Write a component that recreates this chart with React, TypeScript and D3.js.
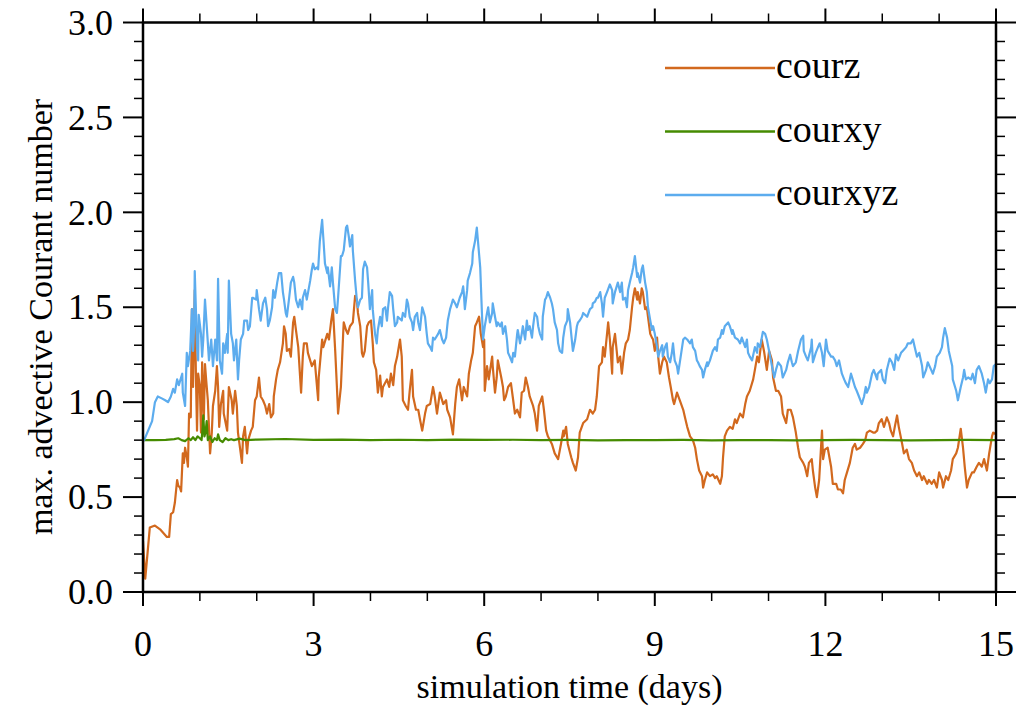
import React from "react";
import * as d3 from "d3";

// Maximum advective Courant numbers over a 15-day simulation, [day, value]
const courz: [number, number][] = [
  [0.00,0.27],[0.04,0.07],[0.12,0.34],[0.21,0.35],[0.30,0.33],[0.42,0.29],[0.46,0.29],[0.49,0.41],[0.53,0.42],[0.56,0.47],
  [0.60,0.59],[0.62,0.56],[0.65,0.55],[0.67,0.53],[0.70,0.73],[0.72,0.68],[0.74,0.76],[0.77,0.71],[0.79,0.66],[0.81,0.94],
  [0.84,0.92],[0.86,1.49],[0.88,1.08],[0.91,1.59],[0.93,1.15],[0.95,0.85],[0.97,1.15],[1.00,1.08],[1.02,0.84],[1.04,1.21],
  [1.07,0.91],[1.09,1.20],[1.11,1.12],[1.14,1.01],[1.18,0.73],[1.21,0.84],[1.23,0.98],[1.27,1.06],[1.30,1.19],[1.32,1.08],
  [1.34,0.87],[1.37,0.99],[1.41,1.06],[1.42,0.94],[1.48,0.85],[1.51,1.08],[1.56,1.01],[1.58,0.94],[1.62,1.06],[1.65,0.98],
  [1.67,0.84],[1.71,0.75],[1.74,0.68],[1.76,0.82],[1.79,0.87],[1.83,0.73],[1.85,0.80],[1.90,0.85],[1.93,0.87],[1.97,1.01],
  [2.00,1.03],[2.04,1.13],[2.07,1.03],[2.11,1.01],[2.15,0.98],[2.18,0.94],[2.22,0.99],[2.25,0.92],[2.29,0.94],[2.30,1.03],
  [2.34,1.12],[2.37,1.17],[2.41,1.21],[2.46,1.31],[2.48,1.40],[2.51,1.36],[2.53,1.27],[2.57,1.28],[2.60,1.24],[2.64,1.42],
  [2.66,1.45],[2.69,1.38],[2.73,1.29],[2.78,1.05],[2.81,1.24],[2.83,1.31],[2.88,1.31],[2.90,1.26],[2.97,1.19],[3.02,1.22],
  [3.08,1.01],[3.09,1.13],[3.15,1.33],[3.17,1.29],[3.24,1.36],[3.27,1.33],[3.31,1.43],[3.34,1.49],[3.38,1.27],[3.41,1.08],
  [3.43,0.94],[3.48,1.08],[3.52,1.36],[3.53,1.42],[3.57,1.38],[3.60,1.36],[3.64,1.40],[3.69,1.42],[3.73,1.56],[3.76,1.54],
  [3.78,1.47],[3.82,1.40],[3.85,1.26],[3.87,1.24],[3.90,1.27],[3.94,1.40],[3.97,1.42],[4.01,1.43],[4.04,1.31],[4.06,1.21],
  [4.10,1.17],[4.13,1.05],[4.17,1.14],[4.20,1.03],[4.22,1.08],[4.29,1.12],[4.33,1.08],[4.36,1.15],[4.40,1.09],[4.43,1.19],
  [4.47,1.24],[4.48,1.26],[4.52,1.33],[4.55,1.24],[4.57,1.01],[4.62,0.98],[4.66,0.96],[4.69,1.06],[4.73,1.17],[4.75,1.03],
  [4.80,0.96],[4.84,0.96],[4.87,0.91],[4.91,0.85],[4.96,0.94],[4.99,0.98],[5.05,0.99],[5.10,1.08],[5.13,1.03],[5.17,0.94],
  [5.22,1.05],[5.28,0.99],[5.33,1.01],[5.35,0.96],[5.40,0.92],[5.45,0.83],[5.49,0.99],[5.52,1.08],[5.56,1.12],[5.61,1.01],
  [5.64,1.08],[5.70,1.03],[5.73,1.15],[5.77,1.22],[5.80,1.26],[5.84,1.40],[5.87,1.42],[5.91,1.45],[5.94,1.36],[5.98,1.29],
  [6.00,1.33],[6.01,1.06],[6.05,1.19],[6.08,1.12],[6.14,1.24],[6.15,1.19],[6.19,1.05],[6.22,1.13],[6.24,1.22],[6.30,1.13],
  [6.33,1.08],[6.35,1.01],[6.38,1.03],[6.42,1.08],[6.47,1.10],[6.51,1.01],[6.54,0.94],[6.58,0.96],[6.63,0.92],[6.66,1.05],
  [6.70,1.06],[6.73,1.13],[6.77,1.08],[6.80,1.03],[6.86,0.98],[6.89,0.94],[6.93,0.85],[6.96,0.98],[7.02,1.03],[7.05,0.96],
  [7.09,0.85],[7.12,0.82],[7.19,0.78],[7.24,0.73],[7.30,0.70],[7.35,0.78],[7.39,0.85],[7.40,0.82],[7.44,0.87],[7.47,0.78],
  [7.53,0.71],[7.56,0.68],[7.61,0.64],[7.65,0.71],[7.68,0.84],[7.74,0.89],[7.81,0.91],[7.86,0.96],[7.91,0.94],[7.95,0.96],
  [7.98,1.03],[8.02,1.19],[8.07,1.21],[8.09,1.29],[8.12,1.24],[8.16,1.36],[8.18,1.42],[8.21,1.33],[8.25,1.15],[8.26,1.29],
  [8.30,1.36],[8.33,1.27],[8.35,1.21],[8.39,1.24],[8.42,1.15],[8.46,1.26],[8.49,1.31],[8.53,1.33],[8.56,1.38],[8.60,1.50],
  [8.62,1.55],[8.65,1.60],[8.69,1.54],[8.70,1.58],[8.74,1.52],[8.77,1.60],[8.79,1.58],[8.83,1.49],[8.86,1.50],[8.88,1.45],
  [8.92,1.36],[8.95,1.34],[8.97,1.33],[9.00,1.27],[9.04,1.34],[9.06,1.24],[9.09,1.15],[9.13,1.21],[9.16,1.24],[9.21,1.21],
  [9.25,1.13],[9.28,1.08],[9.32,1.01],[9.34,0.99],[9.39,1.05],[9.44,1.01],[9.50,0.96],[9.53,0.92],[9.57,0.87],[9.62,0.82],
  [9.67,0.80],[9.71,0.76],[9.74,0.70],[9.78,0.64],[9.83,0.61],[9.85,0.55],[9.88,0.59],[9.92,0.63],[9.97,0.61],[10.02,0.62],
  [10.06,0.60],[10.09,0.61],[10.15,0.57],[10.18,0.61],[10.20,0.71],[10.23,0.82],[10.27,0.85],[10.32,0.87],[10.37,0.86],[10.41,0.91],
  [10.44,0.89],[10.50,0.94],[10.55,0.92],[10.59,0.99],[10.62,1.03],[10.67,1.06],[10.73,1.12],[10.76,1.17],[10.80,1.24],[10.83,1.21],
  [10.85,1.26],[10.88,1.33],[10.92,1.27],[10.97,1.17],[11.01,1.27],[11.06,1.22],[11.08,1.13],[11.13,1.06],[11.17,1.06],[11.22,1.03],
  [11.25,0.94],[11.31,0.89],[11.34,0.96],[11.39,0.96],[11.43,0.92],[11.48,0.84],[11.52,0.76],[11.55,0.71],[11.61,0.68],[11.64,0.66],
  [11.68,0.61],[11.71,0.68],[11.76,0.70],[11.78,0.64],[11.82,0.55],[11.85,0.50],[11.89,0.59],[11.94,0.85],[11.96,0.70],[11.99,0.75],
  [12.04,0.76],[12.10,0.66],[12.13,0.57],[12.19,0.57],[12.22,0.54],[12.27,0.54],[12.31,0.52],[12.34,0.59],[12.38,0.63],[12.43,0.68],
  [12.48,0.76],[12.52,0.78],[12.55,0.75],[12.61,0.76],[12.66,0.78],[12.70,0.80],[12.73,0.84],[12.78,0.85],[12.84,0.84],[12.87,0.84],
  [12.91,0.85],[12.94,0.89],[12.99,0.91],[13.03,0.87],[13.08,0.92],[13.12,0.89],[13.15,0.85],[13.19,0.82],[13.22,0.87],[13.26,0.93],
  [13.29,0.87],[13.35,0.78],[13.38,0.73],[13.43,0.75],[13.47,0.70],[13.52,0.68],[13.56,0.64],[13.61,0.61],[13.65,0.63],[13.70,0.59],
  [13.73,0.61],[13.79,0.57],[13.82,0.59],[13.87,0.57],[13.91,0.59],[13.96,0.55],[14.00,0.63],[14.05,0.59],[14.07,0.55],[14.12,0.61],
  [14.16,0.59],[14.21,0.64],[14.24,0.70],[14.30,0.73],[14.33,0.76],[14.38,0.86],[14.42,0.76],[14.45,0.66],[14.49,0.55],[14.52,0.59],
  [14.58,0.63],[14.61,0.63],[14.66,0.66],[14.70,0.68],[14.75,0.66],[14.79,0.70],[14.84,0.64],[14.88,0.73],[14.93,0.82],[14.95,0.84],
  [15.00,0.83],
];

const courxy: [number, number][] = [
  [0.00,0.800],[0.20,0.800],[0.40,0.801],[0.55,0.805],[0.62,0.810],[0.68,0.800],[0.74,0.795],[0.80,0.810],[0.84,0.800],[0.88,0.815],
  [0.92,0.800],[0.96,0.820],[1.00,0.810],[1.03,0.800],[1.05,0.870],[1.06,0.930],[1.08,0.820],[1.10,0.840],[1.12,0.900],[1.14,0.800],
  [1.18,0.820],[1.22,0.790],[1.26,0.810],[1.30,0.800],[1.32,0.830],[1.35,0.800],[1.40,0.790],[1.45,0.810],[1.50,0.800],[1.55,0.805],
  [1.60,0.800],[1.70,0.808],[1.80,0.800],[2.00,0.803],[2.50,0.806],[3.00,0.801],[3.50,0.803],[4.00,0.800],[4.50,0.802],[5.00,0.800],
  [5.50,0.803],[6.00,0.801],[6.50,0.802],[7.00,0.800],[7.50,0.801],[8.00,0.799],[8.50,0.800],[9.00,0.800],[9.50,0.801],[10.00,0.799],
  [10.50,0.800],[11.00,0.800],[11.50,0.799],[12.00,0.800],[12.50,0.801],[13.00,0.800],[13.50,0.799],[14.00,0.800],[14.50,0.801],[15.00,0.800],
];

const courxyz: [number, number][] = [
  [0.00,0.80],[0.02,0.80],[0.09,0.85],[0.16,0.90],[0.21,1.00],[0.26,1.03],[0.33,1.02],[0.39,1.01],[0.44,1.00],[0.49,1.03],
  [0.53,1.07],[0.56,1.05],[0.60,1.12],[0.63,1.09],[0.69,1.15],[0.70,1.05],[0.74,0.98],[0.77,1.26],[0.79,1.19],[0.83,1.27],
  [0.86,1.49],[0.88,1.27],[0.90,1.40],[0.91,1.69],[0.95,1.29],[0.97,1.22],[0.98,1.46],[1.02,1.36],[1.04,1.24],[1.06,1.33],
  [1.09,1.54],[1.13,1.36],[1.16,1.22],[1.20,1.33],[1.23,1.19],[1.27,1.33],[1.30,1.22],[1.32,1.65],[1.35,1.22],[1.39,1.15],
  [1.41,1.31],[1.44,1.26],[1.48,1.36],[1.49,1.26],[1.51,1.64],[1.55,1.36],[1.58,1.31],[1.60,1.22],[1.64,1.33],[1.67,1.12],
  [1.69,1.22],[1.72,1.33],[1.76,1.36],[1.78,1.43],[1.83,1.43],[1.85,1.38],[1.88,1.40],[1.92,1.55],[1.93,1.55],[1.99,1.54],
  [2.00,1.59],[2.04,1.49],[2.07,1.43],[2.11,1.52],[2.15,1.55],[2.18,1.49],[2.20,1.40],[2.23,1.43],[2.27,1.50],[2.29,1.59],
  [2.32,1.55],[2.36,1.63],[2.39,1.68],[2.43,1.68],[2.46,1.58],[2.48,1.54],[2.51,1.47],[2.53,1.45],[2.57,1.55],[2.60,1.63],
  [2.64,1.66],[2.66,1.63],[2.69,1.54],[2.73,1.50],[2.76,1.54],[2.80,1.49],[2.81,1.55],[2.85,1.59],[2.88,1.54],[2.94,1.64],
  [2.97,1.70],[2.99,1.73],[3.02,1.70],[3.06,1.71],[3.08,1.70],[3.11,1.85],[3.15,1.96],[3.17,1.87],[3.20,1.73],[3.24,1.68],
  [3.25,1.71],[3.29,1.61],[3.32,1.71],[3.34,1.63],[3.38,1.49],[3.41,1.47],[3.43,1.55],[3.48,1.77],[3.50,1.77],[3.53,1.80],
  [3.57,1.92],[3.59,1.93],[3.62,1.87],[3.64,1.82],[3.68,1.88],[3.69,1.80],[3.73,1.64],[3.76,1.54],[3.78,1.50],[3.82,1.54],
  [3.85,1.55],[3.87,1.70],[3.90,1.74],[3.94,1.71],[3.96,1.63],[3.99,1.49],[4.03,1.59],[4.04,1.49],[4.08,1.36],[4.11,1.31],
  [4.13,1.38],[4.17,1.45],[4.20,1.40],[4.22,1.49],[4.26,1.50],[4.29,1.43],[4.31,1.50],[4.34,1.58],[4.38,1.56],[4.40,1.49],
  [4.43,1.40],[4.47,1.42],[4.48,1.45],[4.55,1.43],[4.57,1.47],[4.61,1.45],[4.64,1.54],[4.66,1.52],[4.69,1.45],[4.73,1.42],
  [4.75,1.38],[4.78,1.45],[4.82,1.47],[4.84,1.42],[4.87,1.38],[4.91,1.50],[4.92,1.49],[4.96,1.45],[4.99,1.36],[5.01,1.31],
  [5.05,1.29],[5.08,1.27],[5.10,1.34],[5.13,1.33],[5.19,1.36],[5.22,1.38],[5.26,1.33],[5.29,1.31],[5.33,1.34],[5.36,1.43],
  [5.40,1.49],[5.43,1.52],[5.45,1.54],[5.49,1.52],[5.52,1.50],[5.57,1.55],[5.61,1.58],[5.63,1.61],[5.64,1.58],[5.66,1.49],
  [5.70,1.59],[5.71,1.64],[5.75,1.68],[5.79,1.73],[5.80,1.79],[5.84,1.85],[5.87,1.92],[5.89,1.85],[5.93,1.71],[5.96,1.47],
  [5.98,1.33],[6.01,1.40],[6.05,1.47],[6.07,1.50],[6.10,1.42],[6.14,1.47],[6.15,1.52],[6.19,1.45],[6.22,1.40],[6.24,1.42],
  [6.28,1.40],[6.31,1.42],[6.33,1.36],[6.37,1.40],[6.40,1.33],[6.42,1.26],[6.45,1.24],[6.49,1.21],[6.51,1.26],[6.54,1.24],
  [6.58,1.36],[6.59,1.38],[6.63,1.31],[6.66,1.36],[6.68,1.40],[6.72,1.33],[6.75,1.43],[6.77,1.38],[6.80,1.40],[6.84,1.34],
  [6.86,1.40],[6.89,1.47],[6.93,1.45],[6.95,1.40],[6.98,1.36],[7.02,1.33],[7.03,1.45],[7.07,1.54],[7.09,1.55],[7.12,1.58],
  [7.16,1.55],[7.19,1.52],[7.21,1.49],[7.24,1.42],[7.28,1.38],[7.30,1.31],[7.33,1.27],[7.37,1.26],[7.39,1.34],[7.42,1.40],
  [7.46,1.43],[7.47,1.49],[7.51,1.42],[7.54,1.33],[7.56,1.27],[7.60,1.33],[7.63,1.40],[7.65,1.42],[7.68,1.43],[7.72,1.45],
  [7.74,1.47],[7.81,1.45],[7.86,1.49],[7.90,1.50],[7.91,1.52],[7.95,1.53],[7.98,1.55],[8.00,1.55],[8.04,1.58],[8.07,1.52],
  [8.09,1.45],[8.12,1.55],[8.16,1.58],[8.21,1.62],[8.25,1.59],[8.26,1.52],[8.30,1.58],[8.33,1.61],[8.35,1.63],[8.39,1.58],
  [8.42,1.63],[8.44,1.54],[8.48,1.55],[8.51,1.50],[8.53,1.59],[8.56,1.63],[8.60,1.68],[8.62,1.71],[8.65,1.77],[8.69,1.66],
  [8.70,1.68],[8.74,1.63],[8.77,1.70],[8.79,1.72],[8.83,1.63],[8.86,1.58],[8.88,1.50],[8.92,1.43],[8.95,1.38],[8.97,1.40],
  [9.00,1.36],[9.04,1.29],[9.06,1.24],[9.09,1.27],[9.13,1.30],[9.14,1.24],[9.18,1.29],[9.21,1.31],[9.23,1.24],[9.27,1.21],
  [9.30,1.26],[9.32,1.31],[9.35,1.22],[9.39,1.19],[9.41,1.15],[9.44,1.21],[9.48,1.29],[9.50,1.33],[9.53,1.34],[9.57,1.33],
  [9.62,1.31],[9.65,1.33],[9.67,1.29],[9.71,1.27],[9.74,1.22],[9.76,1.21],[9.79,1.19],[9.83,1.17],[9.85,1.13],[9.88,1.17],
  [9.92,1.21],[9.93,1.19],[9.97,1.22],[10.01,1.26],[10.02,1.27],[10.06,1.29],[10.09,1.27],[10.11,1.33],[10.15,1.34],[10.18,1.38],
  [10.20,1.36],[10.23,1.40],[10.29,1.42],[10.32,1.40],[10.36,1.36],[10.37,1.38],[10.41,1.34],[10.46,1.33],[10.50,1.31],[10.53,1.34],
  [10.59,1.29],[10.62,1.33],[10.64,1.26],[10.67,1.24],[10.71,1.22],[10.76,1.29],[10.80,1.26],[10.81,1.31],[10.85,1.29],[10.90,1.37],
  [10.94,1.36],[10.97,1.33],[11.01,1.27],[11.06,1.19],[11.10,1.13],[11.13,1.17],[11.17,1.21],[11.22,1.19],[11.25,1.13],[11.31,1.17],
  [11.34,1.21],[11.38,1.25],[11.41,1.21],[11.43,1.19],[11.48,1.21],[11.52,1.27],[11.57,1.33],[11.61,1.35],[11.62,1.27],[11.66,1.24],
  [11.69,1.22],[11.75,1.29],[11.76,1.33],[11.78,1.21],[11.83,1.26],[11.87,1.29],[11.90,1.31],[11.94,1.26],[11.97,1.19],[12.01,1.33],
  [12.04,1.27],[12.10,1.24],[12.13,1.24],[12.17,1.22],[12.20,1.19],[12.24,1.22],[12.29,1.15],[12.33,1.12],[12.36,1.10],[12.40,1.08],
  [12.45,1.15],[12.48,1.12],[12.52,1.08],[12.55,1.06],[12.59,1.03],[12.64,0.99],[12.68,1.03],[12.71,1.08],[12.73,1.05],[12.77,1.08],
  [12.82,1.15],[12.85,1.17],[12.91,1.12],[12.92,1.15],[12.98,1.17],[13.01,1.12],[13.05,1.10],[13.08,1.17],[13.13,1.23],[13.17,1.21],
  [13.21,1.17],[13.24,1.25],[13.28,1.22],[13.33,1.26],[13.36,1.27],[13.42,1.29],[13.45,1.31],[13.50,1.31],[13.54,1.33],[13.57,1.29],
  [13.61,1.24],[13.65,1.26],[13.70,1.19],[13.72,1.13],[13.77,1.17],[13.80,1.21],[13.86,1.17],[13.89,1.15],[13.93,1.19],[13.96,1.24],
  [14.01,1.26],[14.05,1.29],[14.07,1.34],[14.10,1.39],[14.14,1.34],[14.17,1.27],[14.23,1.19],[14.24,1.12],[14.30,1.06],[14.33,1.01],
  [14.38,1.08],[14.42,1.13],[14.44,1.17],[14.47,1.12],[14.51,1.13],[14.56,1.12],[14.59,1.15],[14.63,1.10],[14.66,1.17],[14.70,1.19],
  [14.75,1.15],[14.79,1.10],[14.82,1.05],[14.86,1.12],[14.89,1.10],[14.93,1.12],[14.96,1.19],[15.00,1.20],
];

const seriesNames = ["courz", "courxy", "courxyz"];
const seriesColors = ["#d2691e", "#458b00", "#5cacee"];
const xMajorTicks = [0, 3, 6, 9, 12, 15];
const yMajorTicks = [0, 0.5, 1.0, 1.5, 2.0, 2.5, 3.0];

const W = 1033;
const H = 708;
const left = 143;
const right = 996;
const top = 22.5;
const bottom = 592;
const font = "'Liberation Serif', 'Times New Roman', serif";

export default function App() {
  const x = d3.scaleLinear().domain([0, 15]).range([left, right]);
  const y = d3.scaleLinear().domain([0, 3]).range([bottom, top]);
  const line = d3
    .line<[number, number]>()
    .x((d) => x(d[0]))
    .y((d) => y(d[1]));

  const xMinor = d3.range(0, 16).filter((d) => d % 3 !== 0);
  const yMinor = d3.range(0, 31).map((d) => d / 10).filter((_, i) => i % 5 !== 0);
  const data = [courz, courxy, courxyz];

  return (
    <svg
      width={W}
      height={H}
      style={{ position: "absolute", left: 0, top: 0, background: "#fff" }}
    >
      <defs>
        <clipPath id="plotArea">
          <rect x={left} y={top} width={right - left} height={bottom - top} />
        </clipPath>
      </defs>

      {/* data lines */}
      <g clipPath="url(#plotArea)">
        {data.map((s, i) => (
          <path
            key={seriesNames[i]}
            d={line(s) ?? ""}
            fill="none"
            stroke={seriesColors[i]}
            strokeWidth={2.2}
            strokeLinejoin="round"
          />
        ))}
      </g>

      {/* ticks on all four sides, pointing outward */}
      <g stroke="#000">
        {xMajorTicks.map((t) => (
          <g key={"xM" + t} strokeWidth={2}>
            <line x1={x(t)} x2={x(t)} y1={bottom} y2={bottom + 14} />
            <line x1={x(t)} x2={x(t)} y1={top} y2={top - 14} />
          </g>
        ))}
        {xMinor.map((t) => (
          <g key={"xm" + t} strokeWidth={1.5}>
            <line x1={x(t)} x2={x(t)} y1={bottom} y2={bottom + 9} />
            <line x1={x(t)} x2={x(t)} y1={top} y2={top - 9} />
          </g>
        ))}
        {yMajorTicks.map((t) => (
          <g key={"yM" + t} strokeWidth={2}>
            <line x1={left} x2={left - 20} y1={y(t)} y2={y(t)} />
            <line x1={right} x2={right + 20} y1={y(t)} y2={y(t)} />
          </g>
        ))}
        {yMinor.map((t) => (
          <g key={"ym" + t} strokeWidth={1.5}>
            <line x1={left} x2={left - 9} y1={y(t)} y2={y(t)} />
            <line x1={right} x2={right + 9} y1={y(t)} y2={y(t)} />
          </g>
        ))}
      </g>

      {/* frame */}
      <rect
        x={left}
        y={top}
        width={right - left}
        height={bottom - top}
        fill="none"
        stroke="#000"
        strokeWidth={2.5}
      />

      {/* tick labels */}
      <g fontFamily={font} fontSize={36} fill="#000">
        {yMajorTicks.map((t) => (
          <text key={"yl" + t} x={left - 30} y={y(t)} dy="0.34em" textAnchor="end">
            {d3.format(".1f")(t)}
          </text>
        ))}
        {xMajorTicks.map((t) => (
          <text key={"xl" + t} x={x(t)} y={656} textAnchor="middle">
            {t}
          </text>
        ))}
      </g>

      {/* axis titles */}
      <text
        x={(left + right) / 2}
        y={698}
        textAnchor="middle"
        fontFamily={font}
        fontSize={34}
      >
        simulation time (days)
      </text>
      <text
        transform="translate(52, 317) rotate(-90)"
        textAnchor="middle"
        fontFamily={font}
        fontSize={34}
      >
        max. advective Courant number
      </text>

      {/* legend */}
      <g fontFamily={font} fontSize={38}>
        {seriesNames.map((name, i) => {
          const ly = 68 + i * 63.5;
          return (
            <g key={"lg" + name}>
              <line x1={665} x2={775} y1={ly} y2={ly} stroke={seriesColors[i]} strokeWidth={2.5} />
              <text x={776} y={ly + 10}>
                {name}
              </text>
            </g>
          );
        })}
      </g>
    </svg>
  );
}
